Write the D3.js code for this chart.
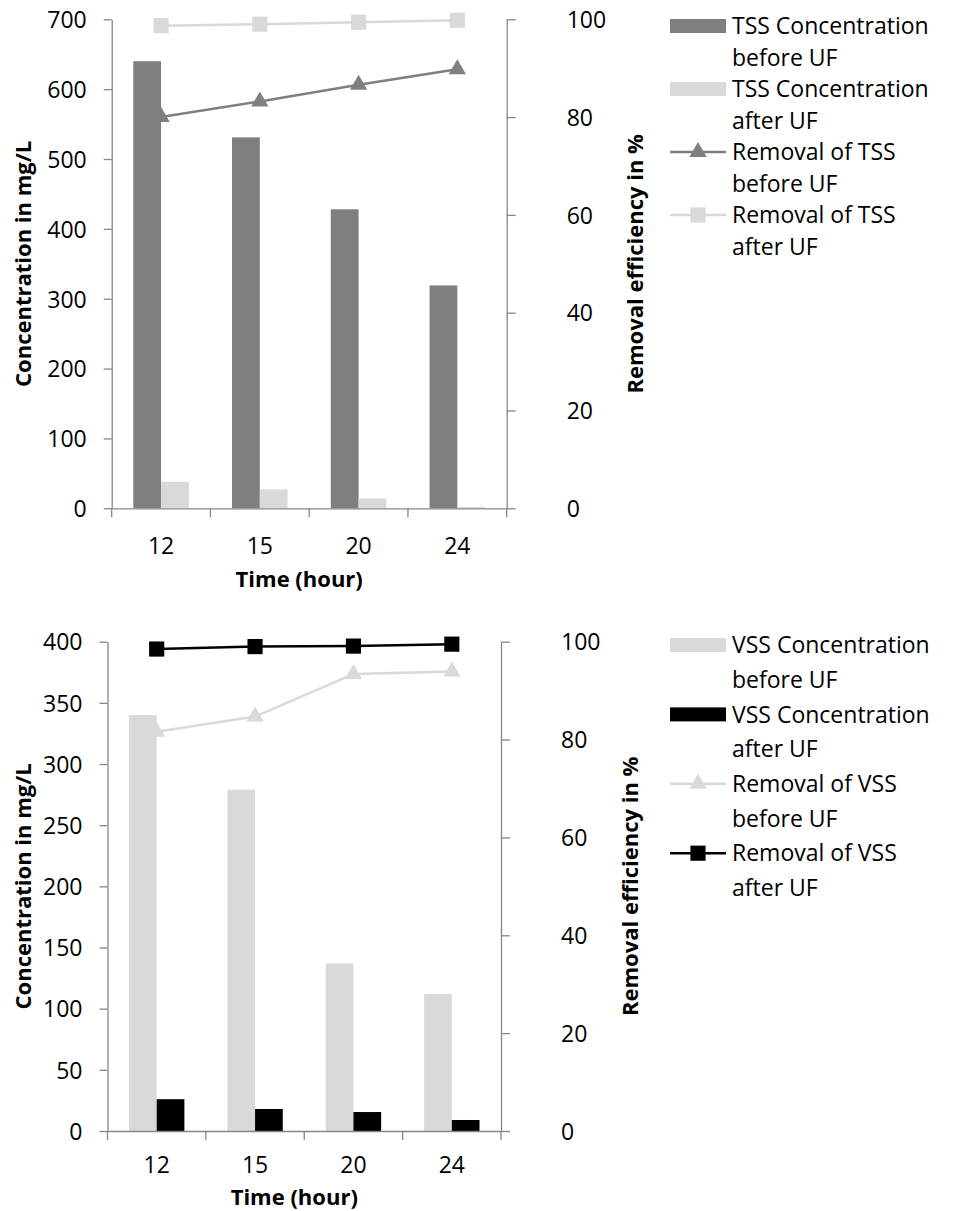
<!DOCTYPE html>
<html>
<head>
<meta charset="utf-8">
<script src="https://cdn.jsdelivr.net/npm/d3@7"></script>
<style>
	body { margin: 0; background: #fff; }
	text { font-family: "Open Sans", sans-serif; fill: #000; }
	.title { font-weight: bold; }
</style>
</head>
<body>
<div id="chart"></div>
<script>
	///////////////////////////////////////////////////////////////////////////
	///////////////////////////////// Data ////////////////////////////////////
	///////////////////////////////////////////////////////////////////////////

	var hours = ["12", "15", "20", "24"];

	var tssBefore = [640, 531, 428, 319];
	var tssAfter = [38, 27, 14, 2];
	var tssRemovalBefore = [80.0, 83.2, 86.6, 89.8];
	var tssRemovalAfter = [98.7, 99.0, 99.4, 99.8];

	var vssBefore = [340, 279, 137, 112];
	var vssAfter = [26, 18, 15.5, 9];
	var vssRemovalBefore = [81.6, 84.7, 93.4, 93.9];
	var vssRemovalAfter = [98.5, 99.0, 99.1, 99.5];

	var tssTicks = [0, 100, 200, 300, 400, 500, 600, 700];
	var vssTicks = [0, 50, 100, 150, 200, 250, 300, 350, 400];
	var pctTicks = [0, 20, 40, 60, 80, 100];

	var tssLegend = [
		["TSS Concentration", "before UF"],
		["TSS Concentration", "after UF"],
		["Removal of TSS", "before UF"],
		["Removal of TSS", "after UF"]
	];
	var vssLegend = [
		["VSS Concentration", "before UF"],
		["VSS Concentration", "after UF"],
		["Removal of VSS", "before UF"],
		["Removal of VSS", "after UF"]
	];

	var axisColor = "#868686";
	var dark = "#7f7f7f", light = "#d9d9d9", black = "#000000";
	var fontSize = "23px", titleSize = "22px";

	var svg = d3.select("#chart").append("svg")
		.attr("width", 962)
		.attr("height", 1211);

	///////////////////////////////////////////////////////////////////////////
	/////////////////////////////// One panel /////////////////////////////////
	///////////////////////////////////////////////////////////////////////////

	function markerSize(symbol) {
		return symbol === d3.symbolSquare ? 230 : 130;
	}

	function drawPanel(p) {
		var g = svg.append("g");

		var x0 = d3.scaleBand().domain(hours).range([p.left, p.right]).padding(0);
		var x1 = d3.scaleBand().domain(["before", "after"]).range([0, x0.bandwidth()])
			.paddingInner(0).paddingOuter(0.776);
		var y = d3.scaleLinear().domain([0, p.yMax]).range([p.bottom, p.top]);
		var yR = d3.scaleLinear().domain([0, 100]).range([p.bottom, p.top]);

		//Bars
		var bars = hours.map(function(h, i) {
			return [{key: "before", v: p.barBefore[i], c: p.barColors[0]},
					{key: "after", v: p.barAfter[i], c: p.barColors[1]}];
		});
		g.selectAll(".grp").data(bars).enter().append("g")
			.attr("transform", function(d, i) { return "translate(" + x0(hours[i]) + ",0)"; })
			.selectAll("rect").data(function(d) { return d; }).enter().append("rect")
			.attr("x", function(d) { return x1(d.key); })
			.attr("width", x1.bandwidth())
			.attr("y", function(d) { return y(d.v); })
			.attr("height", function(d) { return y(0) - y(d.v); })
			.style("fill", function(d) { return d.c; });

		//Left axis
		var yAxis = g.append("g")
			.attr("transform", "translate(" + p.left + ",0)")
			.call(d3.axisLeft(y).tickValues(p.yTicks).tickSize(8).tickSizeOuter(0).tickPadding(17));
		//Right axis
		var rAxis = g.append("g")
			.attr("transform", "translate(" + p.right + ",0)")
			.call(d3.axisRight(yR).tickValues(pctTicks).tickSize(9).tickSizeOuter(0).tickPadding(51));
		//Bottom axis (labels at centres, ticks at boundaries)
		var xAxis = g.append("g")
			.attr("transform", "translate(0," + p.bottom + ")")
			.call(d3.axisBottom(x0).tickSize(0).tickSizeOuter(0).tickPadding(p.xPad));
		var bounds = hours.map(function(h) { return x0(h); }).concat([p.right]);
		xAxis.selectAll(".bound").data(bounds).enter().append("line")
			.attr("x1", function(d) { return d; }).attr("x2", function(d) { return d; })
			.attr("y1", 0).attr("y2", 9)
			.style("stroke", axisColor);

		[yAxis, rAxis, xAxis].forEach(function(a) {
			a.selectAll("path, line").style("stroke", axisColor).style("stroke-width", 1.3);
			a.selectAll("text").style("font-size", fontSize).style("font-family", "'Open Sans', sans-serif").style("fill", "#000");
		});
		yAxis.selectAll("text").attr("dy", "0.36em");
		rAxis.selectAll("text").attr("dy", "0.36em");

		//Lines
		var cx = function(i) { return x0(hours[i]) + x0.bandwidth() / 2; };
		p.lines.forEach(function(l) {
			var line = d3.line()
				.x(function(d, i) { return cx(i); })
				.y(function(d) { return yR(d); });
			g.append("path")
				.datum(l.values)
				.attr("d", line)
				.style("fill", "none")
				.style("stroke", l.color)
				.style("stroke-width", 2.5);
			g.selectAll(null).data(l.values).enter().append("path")
				.attr("transform", function(d, i) { return "translate(" + cx(i) + "," + yR(d) + ")"; })
				.attr("d", d3.symbol().type(l.symbol).size(markerSize(l.symbol)))
				.style("fill", l.color);
		});

		//Axis titles
		g.append("text")
			.attr("class", "title")
			.attr("transform", "translate(" + p.leftTitleX + "," + ((p.top + p.bottom) / 2) + ") rotate(-90)")
			.style("text-anchor", "middle")
			.style("font-size", titleSize)
			.text("Concentration in mg/L");
		g.append("text")
			.attr("class", "title")
			.attr("transform", "translate(" + p.rightTitleX + "," + ((p.top + p.bottom) / 2) + ") rotate(-90)")
			.style("text-anchor", "middle")
			.style("font-size", titleSize)
			.text("Removal efficiency in %");
		g.append("text")
			.attr("class", "title")
			.attr("x", (p.left + p.right) / 2 - 10)
			.attr("y", p.xTitleY)
			.style("text-anchor", "middle")
			.style("font-size", titleSize)
			.text("Time (hour)");

		//Legend
		var leg = g.append("g").attr("class", "legend");
		p.legend.forEach(function(lines, i) {
			var yc = p.legTop + i * 2 * p.legStep;
			lines.forEach(function(t, j) {
				leg.append("text")
					.attr("x", 732)
					.attr("y", yc + j * p.legStep)
					.attr("dy", "0.36em")
					.style("font-size", fontSize)
					.text(t);
			});
			if (i < 2) {
				leg.append("rect")
					.attr("x", 670).attr("y", yc - 7)
					.attr("width", 56).attr("height", 14)
					.style("fill", p.barColors[i]);
			} else {
				var l = p.lines[i - 2];
				leg.append("line")
					.attr("x1", 670).attr("x2", 726)
					.attr("y1", yc).attr("y2", yc)
					.style("stroke", l.color).style("stroke-width", 2.5);
				leg.append("path")
					.attr("transform", "translate(698," + yc + ")")
					.attr("d", d3.symbol().type(l.symbol).size(markerSize(l.symbol)))
					.style("fill", l.color);
			}
		});
	}

	///////////////////////////////////////////////////////////////////////////
	////////////////////////////// Draw panels ////////////////////////////////
	///////////////////////////////////////////////////////////////////////////

	drawPanel({
		left: 111.7, right: 506.7, top: 19.3, bottom: 508.3,
		yMax: 700, yTicks: tssTicks,
		barBefore: tssBefore, barAfter: tssAfter, barColors: [dark, light],
		lines: [
			{values: tssRemovalBefore, color: dark, symbol: d3.symbolTriangle},
			{values: tssRemovalAfter, color: light, symbol: d3.symbolSquare}
		],
		leftTitleX: 31, rightTitleX: 643, xTitleY: 587, xPad: 29,
		legend: tssLegend, legTop: 26, legStep: 31.5
	});

	drawPanel({
		left: 107.5, right: 501, top: 641.7, bottom: 1131,
		yMax: 400, yTicks: vssTicks,
		barBefore: vssBefore, barAfter: vssAfter, barColors: [light, black],
		lines: [
			{values: vssRemovalBefore, color: light, symbol: d3.symbolTriangle},
			{values: vssRemovalAfter, color: black, symbol: d3.symbolSquare}
		],
		leftTitleX: 31, rightTitleX: 638, xTitleY: 1205, xPad: 26,
		legend: vssLegend, legTop: 645, legStep: 34.7
	});
</script>
</body>
</html>
